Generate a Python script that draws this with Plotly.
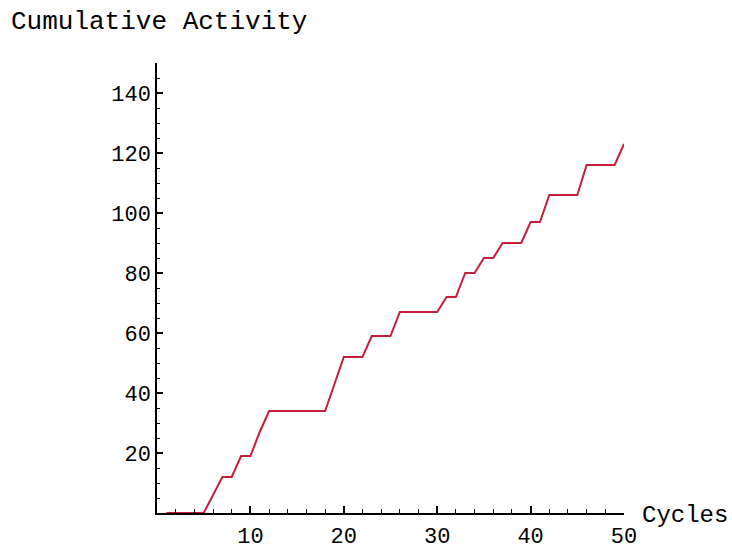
import plotly.graph_objects as go

cycles = list(range(1, 51))
activity = [0, 0, 0, 0, 0, 6, 12, 12, 19, 19,
            27, 34, 34, 34, 34, 34, 34, 34, 43, 52,
            52, 52, 59, 59, 59, 67, 67, 67, 67, 67,
            72, 72, 80, 80, 85, 85, 90, 90, 90, 97,
            97, 106, 106, 106, 106, 116, 116, 116, 116, 123]

x_ticks = [10, 20, 30, 40, 50]
y_ticks = [20, 40, 60, 80, 100, 120, 140]

font_name = "Liberation Mono"

fig = go.Figure()
fig.add_trace(go.Scatter(x=cycles, y=activity, mode="lines",
                         line=dict(color="#c41e3a", width=2),
                         hoverinfo="skip", showlegend=False))

fig.update_layout(
    width=732, height=550,
    margin=dict(l=157, r=108, t=63, b=37),
    paper_bgcolor="white", plot_bgcolor="white",
    font=dict(family=font_name, color="black", size=22),
    xaxis=dict(range=[0, 50], showgrid=False, zeroline=False, automargin=False,
               showline=True, linecolor="black", linewidth=1.5,
               tickmode="array", tickvals=x_ticks,
               ticks="inside", ticklen=7, tickwidth=1.5, tickcolor="black",
               ticklabelstandoff=2,
               minor=dict(tickmode="linear", tick0=0, dtick=2, ticks="inside",
                          ticklen=4, tickwidth=1, tickcolor="black"),
               tickfont=dict(family=font_name, size=22)),
    yaxis=dict(range=[0, 150], showgrid=False, zeroline=False, automargin=False,
               showline=True, linecolor="black", linewidth=1.5,
               tickmode="array", tickvals=y_ticks,
               ticks="inside", ticklen=6, tickwidth=1.5, tickcolor="black",
               minor=dict(tickmode="linear", tick0=0, dtick=5, ticks="inside",
                          ticklen=3, tickwidth=1, tickcolor="black"),
               tickfont=dict(family=font_name, size=22)),
    annotations=[
        dict(text="Cumulative Activity", xref="paper", yref="paper",
             x=-148/467, y=1 + 41/450, xanchor="left", yanchor="middle",
             showarrow=False, font=dict(family=font_name, size=26)),
        dict(text="Cycles", xref="paper", yref="paper",
             x=1 + 16/467, y=-2/450, xanchor="left", yanchor="middle",
             showarrow=False, font=dict(family=font_name, size=24)),
    ],
)

fig.write_html("out.html")
